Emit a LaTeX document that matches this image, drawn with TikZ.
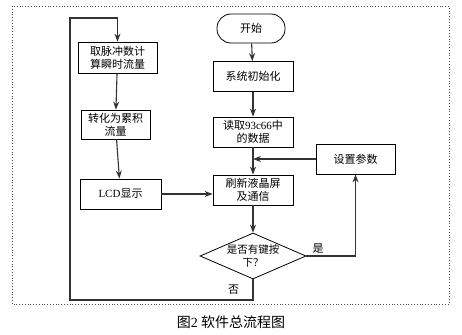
\documentclass[tikz,border=0pt]{standalone}
\usepackage{fontspec}
\setmainfont{Liberation Serif}
\newfontfamily\cjk{Noto Sans CJK SC}
\usetikzlibrary{shapes.geometric, arrows.meta}
\tikzstyle{startstop} = [
    rectangle,
    rounded corners=14pt,
    minimum width=68pt,
    minimum height=29pt,
    draw=black,
    line width=0.8pt
]
\tikzstyle{process} = [
    rectangle,
    minimum width=80pt,
    minimum height=30pt,
    inner sep=1pt,
    align=center,
    draw=black,
    line width=0.8pt
]
\tikzstyle{decision} = [
    diamond,
    aspect=2.3,
    inner sep=-2pt,
    minimum width=106pt,
    minimum height=46pt,
    align=center,
    draw=black,
    line width=0.8pt,
    font=\cjk\fontsize{10.5}{12.5}\selectfont
]
\tikzstyle{arrow} = [line width=1.1pt, draw=black!80, -{Stealth[length=8pt, width=6pt]}]

\begin{document}
\begin{tikzpicture}[x=1pt, y=-1pt, font=\cjk\fontsize{11}{13}\selectfont]
\useasboundingbox (0,0) rectangle (462,334);
\draw [dotted, line width=0.8pt, black!70] (12,6) rectangle (449,304);

\node (start) [startstop] at (251,28.5) {开始};
\node (init) [process] at (253,76.5) {系统初始化};
\node (read) [process] at (253,132) {读取{\rmfamily 93c66}中\\的数据};
\node (refresh) [process] at (253,190) {刷新液晶屏\\及通信};
\node (ask) [decision] at (253,256) {是否有键按\\下？};
\node (param) [process, minimum width=79pt] at (355.5,159) {设置参数};

\node (pulse) [process, minimum width=79pt, minimum height=31pt] at (117.5,57.5) {取脉冲数计\\算瞬时流量};
\node (total) [process, minimum width=69pt, minimum height=29pt] at (115.5,124.5) {转化为累积\\流量};
\node (lcd) [process, minimum width=81pt] at (120.5,194) {{\rmfamily LCD}显示};

\coordinate (lbot) at (70,300);
\coordinate (ltop) at (70,18);

\draw [arrow] (start) -- (init);
\draw [arrow] (init) -- (read);
\draw [arrow] (read) -- (refresh);
\draw [arrow] (refresh) -- (ask);
\draw [arrow] (ask.east) -| node[pos=0.12, above, inner sep=2pt] {是} (param.south);
\draw [arrow] (param.west) -- (param.west -| read.south);
\draw [arrow] (ask.south) |- node[pos=0.25, left=10pt] {否} (lbot) -- (ltop) -| (pulse.north);
\draw [arrow] (pulse) -- (total);
\draw [arrow] (total) -- (lcd);
\draw [arrow] (lcd.east) -- (lcd.east -| refresh.west);

\node (caption) at (231,322) {\fontsize{14}{16}\selectfont 图{\rmfamily 2} 软件总流程图};
\end{tikzpicture}
\end{document}
